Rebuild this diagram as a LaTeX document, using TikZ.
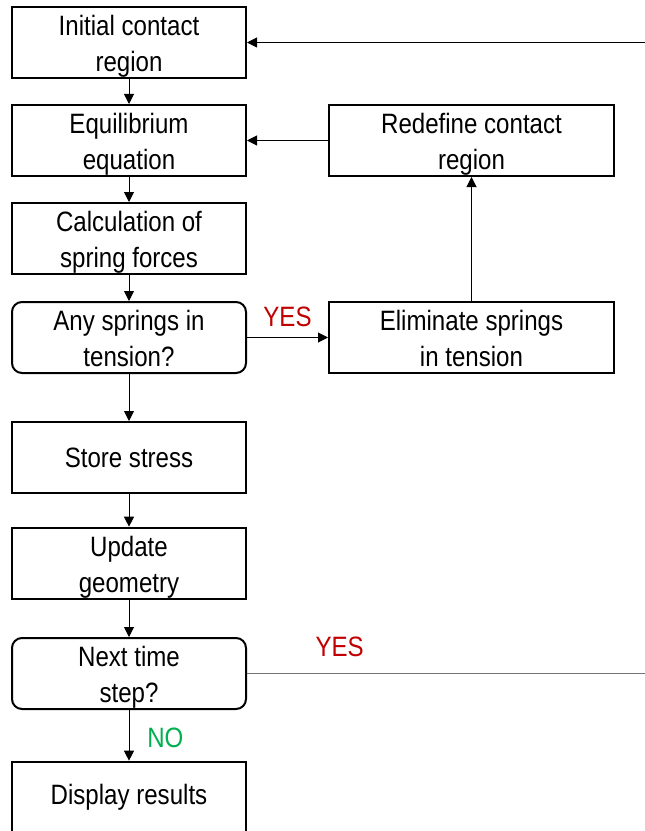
\documentclass[tikz,border=0pt]{standalone}
\usepackage{fontspec}
\setmainfont{Liberation Sans}[FakeStretch=0.86]
\usetikzlibrary{positioning, arrows.meta}

\definecolor{yesred}{HTML}{C00000}
\definecolor{nogreen}{HTML}{00B050}

\begin{document}
\begin{tikzpicture}[
    x=0.75pt, y=-0.75pt,
    font=\fontsize{21}{27}\selectfont,
    % Node styles
    procbox/.style={
        draw, line width=1.5pt, align=center, inner xsep=2pt, inner ysep=1.5pt,
        minimum width=175.5pt, minimum height=53.25pt
    },
    twolines/.style={text height=47pt, text depth=3.25pt},
    decision/.style={procbox, rounded corners=7.5pt},
    sidebox/.style={procbox, minimum width=213.75pt},
    % Labels on the branches
    yeslabel/.style={text=yesred},
    nolabel/.style={text=nogreen},
    % Arrow style
    arrow/.style={-{Triangle[length=7.5pt, width=7.5pt]}, line width=0.75pt},
    loopline/.style={draw=black!55, line width=0.75pt},
]

\useasboundingbox (0,0) rectangle (645,831);

% ===== MAIN COLUMN =====

\node[procbox, twolines] (init) at (129,42.5) {Initial contact\\region};
\node[procbox, twolines, below=18.75pt of init] (equil) {Equilibrium\\equation};
\node[procbox, twolines, below=18.75pt of equil] (calc) {Calculation of\\spring forces};
\node[decision, twolines, below=19.5pt of calc] (any) {Any springs in\\tension?};
\node[procbox, below=35.25pt of any] (store) {Store stress};
\node[procbox, twolines, below=24.5pt of store] (update) {Update\\geometry};
\node[decision, twolines, below=28pt of update] (next) {Next time\\step?};
\node[procbox, below=38pt of next] (display) {Display results};

\draw[arrow] (init) -- (equil);
\draw[arrow] (equil) -- (calc);
\draw[arrow] (calc) -- (any);
\draw[arrow] (any) -- (store);
\draw[arrow] (store) -- (update);
\draw[arrow] (update) -- (next);
\draw[arrow] (next) -- node[nolabel, right=10pt, yshift=-2pt] {NO} (display);

% ===== SIDE BRANCH: springs in tension =====

\node[sidebox, twolines, right=60.75pt of any] (elim) {Eliminate springs\\in tension};
\node[sidebox, twolines, right=60.75pt of equil] (redef) {Redefine contact\\region};

\draw[arrow] (any) -- node[yeslabel, above=4.5pt] {YES} (elim);
\draw[arrow] (elim) -- (redef);
\draw[arrow] (redef) -- (equil);

% ===== TIME STEP LOOP (runs off the right edge) =====

\coordinate (loop-bot) at (next.east -| 650,0);
\coordinate (loop-top) at (init.east -| 650,0);

\draw[loopline] (next) -- node[yeslabel, pos=0.23, above=8.5pt] {YES} (loop-bot);
\draw[arrow] (loop-top) -- (init);

\end{tikzpicture}
\end{document}
